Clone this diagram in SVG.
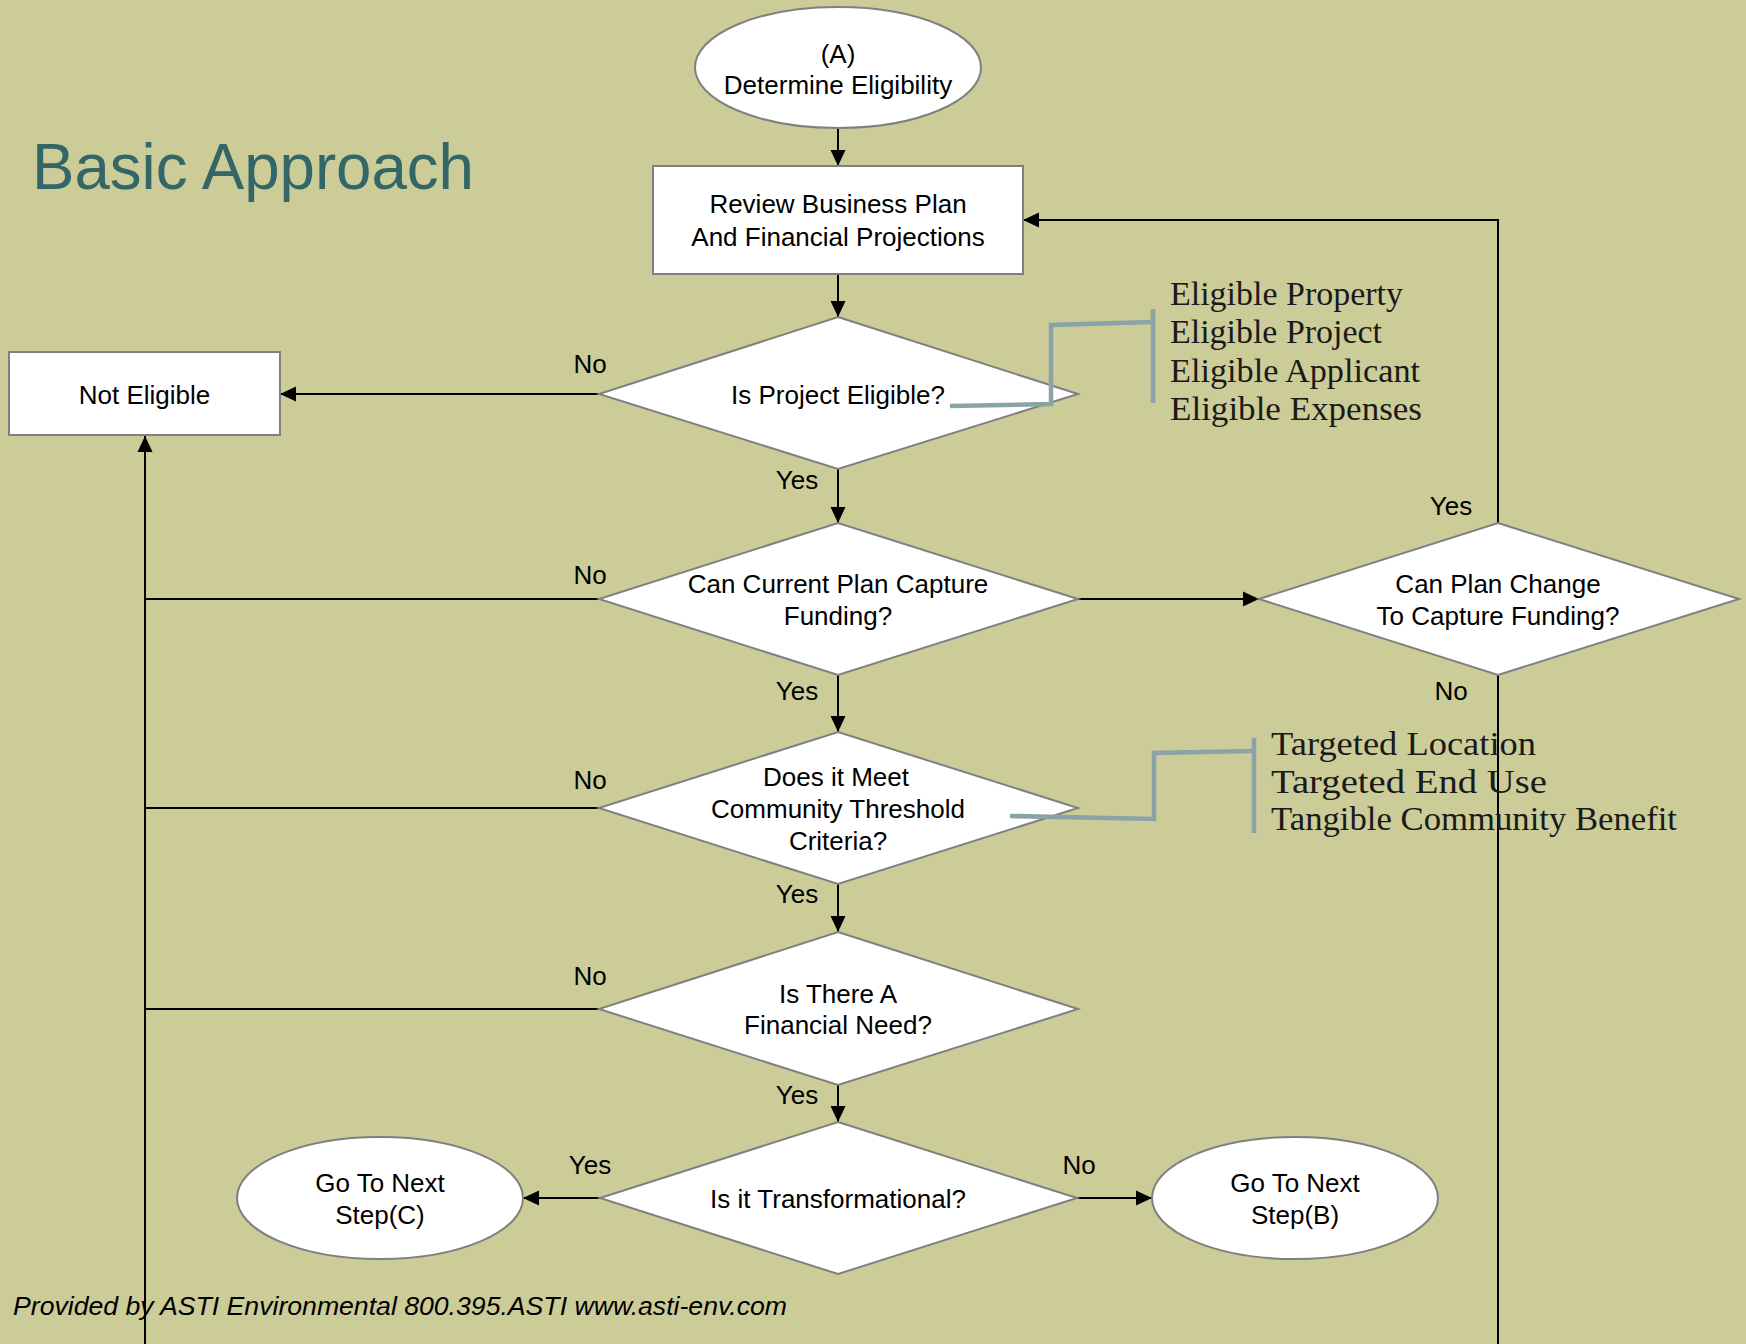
<svg xmlns="http://www.w3.org/2000/svg" width="1746" height="1344" viewBox="0 0 1746 1344">
  <defs>
    <marker id="arrow" markerUnits="userSpaceOnUse" markerWidth="16" markerHeight="16" viewBox="0 0 16 16" refX="16" refY="8" orient="auto">
      <path d="M0,0.5 L16,8 L0,15.5 Z" fill="#000"/>
    </marker>
    <style>
      .shape { fill: #ffffff; stroke: #808080; stroke-width: 2; }
      .label { font-family: "Liberation Sans", Arial, sans-serif; font-size: 26px; fill: #000; text-anchor: middle; }
      .edge-label { font-family: "Liberation Sans", Arial, sans-serif; font-size: 26px; fill: #000; text-anchor: middle; }
      .wire { fill: none; stroke: #000; stroke-width: 2; }
      .wire-arrow { fill: none; stroke: #000; stroke-width: 2; marker-end: url(#arrow); }
      .bracket { fill: none; stroke: #8AA3A7; stroke-width: 4.5; }
      .note { font-family: "Liberation Serif", "Times New Roman", serif; font-size: 34px; fill: #1a1a1a; }
    </style>
  </defs>

  <!-- background -->
  <rect x="0" y="0" width="1746" height="1344" fill="#CCCC99"/>

  <!-- title -->
  <text x="32" y="189" font-family="Liberation Sans, Arial, sans-serif" font-size="64" fill="#336666" textLength="442" lengthAdjust="spacingAndGlyphs">Basic Approach</text>

  <!-- connectors -->
  <g id="connectors">
    <line class="wire-arrow" x1="838" y1="128" x2="838" y2="166"/>
    <line class="wire-arrow" x1="838" y1="274" x2="838" y2="317"/>
    <line class="wire-arrow" x1="599" y1="394" x2="280" y2="394"/>
    <line class="wire-arrow" x1="838" y1="469" x2="838" y2="523"/>
    <line class="wire-arrow" x1="1078" y1="599" x2="1259" y2="599"/>
    <polyline class="wire-arrow" points="1498,523 1498,220 1023,220"/>
    <line class="wire" x1="1498" y1="675" x2="1498" y2="1344"/>
    <line class="wire" x1="599" y1="599" x2="145" y2="599"/>
    <line class="wire-arrow" x1="838" y1="675" x2="838" y2="732"/>
    <line class="wire" x1="599" y1="808" x2="145" y2="808"/>
    <line class="wire-arrow" x1="838" y1="884" x2="838" y2="932"/>
    <line class="wire" x1="599" y1="1009" x2="145" y2="1009"/>
    <line class="wire-arrow" x1="838" y1="1085" x2="838" y2="1122"/>
    <line class="wire-arrow" x1="145" y1="1344" x2="145" y2="436"/>
    <line class="wire-arrow" x1="600" y1="1198" x2="523" y2="1198"/>
    <line class="wire-arrow" x1="1077" y1="1198" x2="1152" y2="1198"/>

    <!-- branch labels -->
    <text class="edge-label" x="590" y="373">No</text>
    <text class="edge-label" x="797" y="489">Yes</text>
    <text class="edge-label" x="590" y="584">No</text>
    <text class="edge-label" x="797" y="700">Yes</text>
    <text class="edge-label" x="1451" y="515">Yes</text>
    <text class="edge-label" x="1451" y="700">No</text>
    <text class="edge-label" x="590" y="789">No</text>
    <text class="edge-label" x="797" y="903">Yes</text>
    <text class="edge-label" x="590" y="985">No</text>
    <text class="edge-label" x="797" y="1104">Yes</text>
    <text class="edge-label" x="590" y="1174">Yes</text>
    <text class="edge-label" x="1079" y="1174">No</text>
  </g>

  <!-- nodes -->
  <g id="start-a">
    <ellipse class="shape" cx="838" cy="67.5" rx="143" ry="60.5"/>
    <text class="label" x="838" y="63">(A)</text>
    <text class="label" x="838" y="94">Determine Eligibility</text>
  </g>
  <g id="review-plan">
    <rect class="shape" x="653" y="166" width="370" height="108"/>
    <text class="label" x="838" y="213">Review Business Plan</text>
    <text class="label" x="838" y="246">And Financial Projections</text>
  </g>
  <g id="not-eligible">
    <rect class="shape" x="9" y="352" width="271" height="83"/>
    <text class="label" x="144.5" y="404">Not Eligible</text>
  </g>
  <g id="q-eligible">
    <polygon class="shape" points="838,317 1078,394 838,469 599,394"/>
    <text class="label" x="838" y="404">Is Project Eligible?</text>
  </g>
  <g id="q-current-plan">
    <polygon class="shape" points="838,523 1078,599 838,675 599,599"/>
    <text class="label" x="838" y="593">Can Current Plan Capture</text>
    <text class="label" x="838" y="625">Funding?</text>
  </g>
  <g id="q-plan-change">
    <polygon class="shape" points="1498,523 1739,599 1498,675 1259,599"/>
    <text class="label" x="1498" y="593">Can Plan Change</text>
    <text class="label" x="1498" y="625">To Capture Funding?</text>
  </g>
  <g id="q-threshold">
    <polygon class="shape" points="838,732 1078,808 838,884 599,808"/>
    <text class="label" x="836" y="786">Does it Meet</text>
    <text class="label" x="838" y="818">Community Threshold</text>
    <text class="label" x="838" y="850">Criteria?</text>
  </g>
  <g id="q-financial-need">
    <polygon class="shape" points="838,932 1078,1009 838,1085 599,1009"/>
    <text class="label" x="838" y="1003">Is There A</text>
    <text class="label" x="838" y="1034">Financial Need?</text>
  </g>
  <g id="q-transformational">
    <polygon class="shape" points="838,1122 1077,1198 838,1274 600,1198"/>
    <text class="label" x="838" y="1208">Is it Transformational?</text>
  </g>
  <g id="step-c">
    <ellipse class="shape" cx="380" cy="1198" rx="143" ry="61"/>
    <text class="label" x="380" y="1192">Go To Next</text>
    <text class="label" x="380" y="1224">Step(C)</text>
  </g>
  <g id="step-b">
    <ellipse class="shape" cx="1295" cy="1198" rx="143" ry="61"/>
    <text class="label" x="1295" y="1192">Go To Next</text>
    <text class="label" x="1295" y="1224">Step(B)</text>
  </g>

  <!-- side notes with brackets, drawn over the decision shapes -->
  <g id="note-eligibility">
    <polyline class="bracket" points="950,406 1051,404 1051,325 1152,322"/>
    <line class="bracket" x1="1153" y1="309" x2="1153" y2="403"/>
    <text class="note" x="1170" y="305" textLength="233" lengthAdjust="spacingAndGlyphs">Eligible Property</text>
    <text class="note" x="1170" y="343" textLength="212" lengthAdjust="spacingAndGlyphs">Eligible Project</text>
    <text class="note" x="1170" y="382" textLength="250" lengthAdjust="spacingAndGlyphs">Eligible Applicant</text>
    <text class="note" x="1170" y="420" textLength="252" lengthAdjust="spacingAndGlyphs">Eligible Expenses</text>
  </g>
  <g id="note-threshold">
    <polyline class="bracket" points="1010,816 1154,819 1154,753 1252,751"/>
    <line class="bracket" x1="1254" y1="738" x2="1254" y2="833"/>
    <text class="note" x="1271" y="755" textLength="265" lengthAdjust="spacingAndGlyphs">Targeted Location</text>
    <text class="note" x="1271" y="793" textLength="276" lengthAdjust="spacingAndGlyphs">Targeted End Use</text>
    <text class="note" x="1271" y="830" textLength="406" lengthAdjust="spacingAndGlyphs">Tangible Community Benefit</text>
  </g>

  <!-- footer -->
  <text x="13" y="1315" font-family="Liberation Sans, Arial, sans-serif" font-size="26" font-style="italic" fill="#000" textLength="774" lengthAdjust="spacingAndGlyphs">Provided by ASTI Environmental 800.395.ASTI www.asti-env.com</text>
  <line class="wire" x1="145" y1="1290" x2="145" y2="1344"/>
</svg>
